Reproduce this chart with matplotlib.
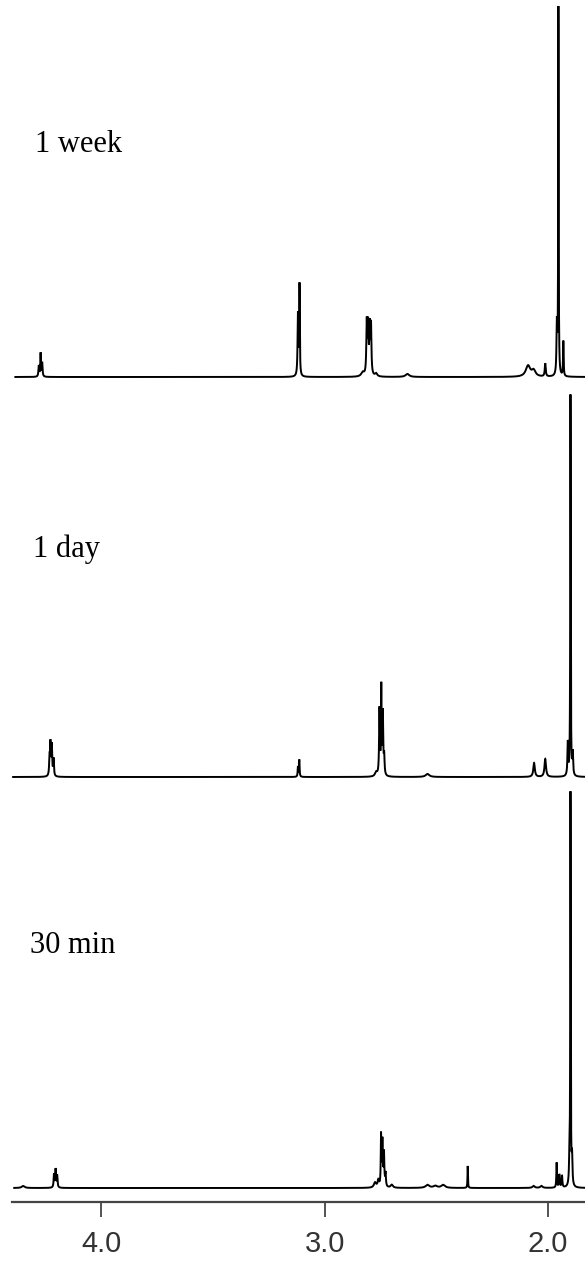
"""Stacked 1H NMR traces (1.8-4.4 ppm) at three reaction times."""
import numpy as np
import matplotlib.pyplot as plt

# peak tables: shift (ppm), height (px above baseline), half-width (ppm)
week_shift = [4.280, 4.272, 4.265, 3.120, 3.113, 2.830, 2.812, 2.806, 2.799, 2.793,
              2.770, 2.630, 2.090, 2.065, 2.013, 1.961, 1.954, 1.932]
week_height = [11, 23, 14, 62, 90, 4, 52, 48, 47, 49,
               3, 3, 11, 6, 13, 50, 367, 35]
week_width = [0.002, 0.0015, 0.002, 0.002, 0.0015, 0.008, 0.0022, 0.0022, 0.0022, 0.0022,
              0.006, 0.010, 0.012, 0.010, 0.0025, 0.002, 0.0012, 0.0015]

day_shift = [4.232, 4.228, 4.222, 4.214, 3.120, 3.114, 2.770, 2.755, 2.747, 2.740,
             2.734, 2.540, 2.063, 2.013, 1.912, 1.900, 1.890]
day_height = [17, 31, 30, 17, 10, 17, 4, 66, 86, 62,
              18, 3, 14, 18, 33, 381, 22]
day_width = [0.002, 0.002, 0.002, 0.002, 0.0015, 0.0015, 0.006, 0.002, 0.0015, 0.002,
             0.002, 0.010, 0.004, 0.004, 0.002, 0.0012, 0.002]

min30_shift = [4.350, 4.212, 4.205, 4.198, 2.775, 2.760, 2.748, 2.742, 2.735, 2.728,
               2.700, 2.540, 2.505, 2.470, 2.360, 2.065, 2.030, 1.962, 1.950, 1.938,
               1.905, 1.900, 1.893]
min30_height = [2, 13, 18, 12, 5, 7, 50, 45, 33, 13,
                3, 3, 2, 3, 22, 2, 2, 25, 13, 12,
                20, 392, 28]
min30_width = [0.008, 0.002, 0.002, 0.002, 0.006, 0.004, 0.0015, 0.002, 0.002, 0.002,
               0.006, 0.010, 0.010, 0.010, 0.0012, 0.006, 0.006, 0.0015, 0.002, 0.002,
               0.002, 0.0012, 0.002]

labels = ["1 week", "1 day", "30 min"]
baselines = [825, 425, 14]          # trace offsets, in axis pixels above the spine
label_x = [35, 33, 30]               # figure pixels
label_y = [1050, 645, 249]           # text baseline, axis pixels
ticks = [4.0, 3.0, 2.0]


def trace(ppm, shifts, heights, widths):
    y = np.zeros_like(ppm)
    for x0, h, w in zip(shifts, heights, widths):
        y += h / (1.0 + ((ppm - x0) / w) ** 2)
    return y


ppm = np.linspace(4.40, 1.835, 40000)
spectra = [
    trace(ppm, week_shift, week_height, week_width),
    trace(ppm, day_shift, day_height, day_width),
    trace(ppm, min30_shift, min30_height, min30_width),
]

W, H = 585, 1261
fig = plt.figure(figsize=(W / 100, H / 100), dpi=100, facecolor="white")
ax = fig.add_axes([12 / W, (H - 1202) / H, 573 / W, 1202 / H])

starts = [4.385, 4.395, 4.39]
for spec, off, x_start in zip(spectra, baselines, starts):
    m = ppm <= x_start
    ax.plot(ppm[m], spec[m] + off, color="black", lw=1.4, solid_joinstyle="miter")

for lab, lx, ly in zip(labels, label_x, label_y):
    ax.text((lx - 12) / 573, ly, lab, transform=ax.get_yaxis_transform(),
            family="Liberation Serif", fontsize=22, color="black",
            ha="left", va="baseline")

ax.set_xlim(4.40, 1.835)
ax.set_ylim(0, 1202)
for side in ("left", "top", "right"):
    ax.spines[side].set_visible(False)
ax.spines["bottom"].set_color("#444444")
ax.spines["bottom"].set_linewidth(1.6)
ax.set_yticks([])
ax.set_xticks(ticks)
ax.set_xticklabels([f"{t:.1f}" for t in ticks], family="Liberation Sans",
                   fontsize=21, color="#333333")
ax.tick_params(axis="x", direction="out", length=11, width=1.3,
               color="#444444", pad=9)

fig.savefig("out.png", dpi=100, facecolor="white")
